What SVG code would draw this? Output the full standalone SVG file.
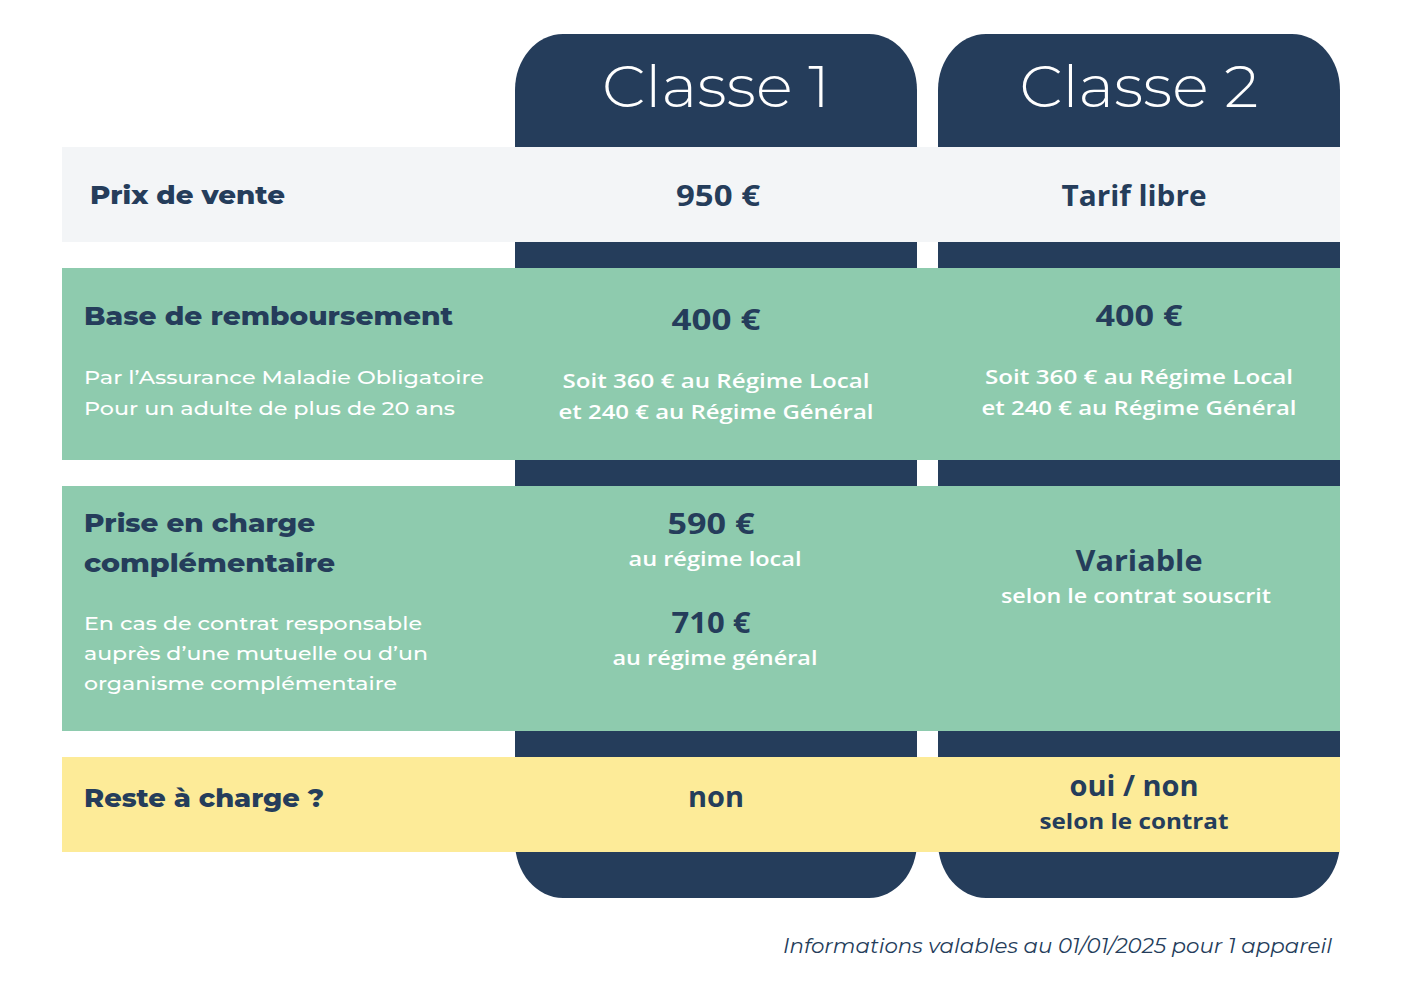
<svg xmlns="http://www.w3.org/2000/svg" width="1407" height="1000" viewBox="0 0 1407 1000">
<style>
.dark{fill:#253d5b}
.lbl{font-family:Montserrat,"Noto Sans","Open Sans",sans-serif;font-weight:800;font-size:26px;fill:#253d5b}
.sub{font-family:Montserrat,"Noto Sans","Open Sans",sans-serif;font-weight:500;font-size:19px;fill:#ffffff}
.val{font-family:"Open Sans","Noto Sans",sans-serif;font-weight:700;font-size:28px;fill:#253d5b;text-anchor:middle}
.vsub{font-family:"Open Sans","Noto Sans",sans-serif;font-weight:600;font-size:20px;fill:#ffffff;text-anchor:middle}
.head{font-family:Montserrat,"Open Sans","Noto Sans",sans-serif;font-weight:300;font-size:58px;fill:#ffffff;text-anchor:middle}
</style>
<rect width="1407" height="1000" fill="#ffffff"/>
<g id="col1"><rect class="dark" x="515" y="34" width="402" height="864" rx="48" ry="56"/><text class="head" x="716" y="107" textLength="228" lengthAdjust="spacingAndGlyphs">Classe 1</text></g>
<g id="col2"><rect class="dark" x="938" y="34" width="402" height="864" rx="48" ry="56"/><text class="head" x="1139" y="107" textLength="239" lengthAdjust="spacingAndGlyphs">Classe 2</text></g>
<g id="row-prix">
<rect x="62" y="147" width="1278" height="95" fill="#f3f5f7"/>
<text class="lbl" x="90" y="204" textLength="195" lengthAdjust="spacingAndGlyphs">Prix de vente</text>
<text class="val" x="718" y="206" textLength="84" lengthAdjust="spacingAndGlyphs">950 €</text>
<text class="val" x="1134" y="206" textLength="145" lengthAdjust="spacingAndGlyphs">Tarif libre</text>
</g>
<g id="row-base">
<rect x="62" y="268" width="1278" height="192" fill="#8ecbae"/>
<text class="lbl" x="84" y="325" textLength="369" lengthAdjust="spacingAndGlyphs">Base de remboursement</text>
<text class="sub" x="84" y="384" textLength="400" lengthAdjust="spacingAndGlyphs">Par l’Assurance Maladie Obligatoire</text>
<text class="sub" x="84" y="415" textLength="371" lengthAdjust="spacingAndGlyphs">Pour un adulte de plus de 20 ans</text>
<text class="val" x="716" y="330" textLength="89" lengthAdjust="spacingAndGlyphs">400 €</text>
<text class="vsub" x="716" y="388" textLength="307" lengthAdjust="spacingAndGlyphs">Soit 360 € au Régime Local</text>
<text class="vsub" x="716" y="419" textLength="315" lengthAdjust="spacingAndGlyphs">et 240 € au Régime Général</text>
<text class="val" x="1139" y="326" textLength="87" lengthAdjust="spacingAndGlyphs">400 €</text>
<text class="vsub" x="1139" y="384" textLength="308" lengthAdjust="spacingAndGlyphs">Soit 360 € au Régime Local</text>
<text class="vsub" x="1139" y="415" textLength="315" lengthAdjust="spacingAndGlyphs">et 240 € au Régime Général</text>
</g>
<g id="row-prise">
<rect x="62" y="486" width="1278" height="245" fill="#8ecbae"/>
<text class="lbl" x="84" y="532" textLength="231" lengthAdjust="spacingAndGlyphs">Prise en charge</text>
<text class="lbl" x="84" y="572" textLength="251" lengthAdjust="spacingAndGlyphs">complémentaire</text>
<text class="sub" x="84" y="630" textLength="338" lengthAdjust="spacingAndGlyphs">En cas de contrat responsable</text>
<text class="sub" x="84" y="660" textLength="344" lengthAdjust="spacingAndGlyphs">auprès d’une mutuelle ou d’un</text>
<text class="sub" x="84" y="690" textLength="313" lengthAdjust="spacingAndGlyphs">organisme complémentaire</text>
<text class="val" x="711" y="534" textLength="87" lengthAdjust="spacingAndGlyphs">590 €</text>
<text class="vsub" x="715" y="566" textLength="173" lengthAdjust="spacingAndGlyphs">au régime local</text>
<text class="val" x="711" y="633" textLength="79" lengthAdjust="spacingAndGlyphs">710 €</text>
<text class="vsub" x="715" y="665" textLength="205" lengthAdjust="spacingAndGlyphs">au régime général</text>
<text class="val" x="1139" y="571" textLength="127" lengthAdjust="spacingAndGlyphs">Variable</text>
<text class="vsub" x="1136" y="603" textLength="270" lengthAdjust="spacingAndGlyphs">selon le contrat souscrit</text>
</g>
<g id="row-reste">
<rect x="62" y="757" width="1278" height="95" fill="#fdeb98"/>
<text class="lbl" x="84" y="807" textLength="240" lengthAdjust="spacingAndGlyphs">Reste à charge ?</text>
<text class="val" x="716" y="807" textLength="56" lengthAdjust="spacingAndGlyphs">non</text>
<text class="val" x="1134" y="796" textLength="129" lengthAdjust="spacingAndGlyphs">oui / non</text>
<text class="val" x="1134" y="829" style="font-size:22px" textLength="189" lengthAdjust="spacingAndGlyphs">selon le contrat</text>
</g>
<g id="connectors"></g>
<text x="1332" y="953" text-anchor="end" font-family="Montserrat,'Noto Sans','Open Sans',sans-serif" font-style="italic" font-weight="400" font-size="20" fill="#253d5b" textLength="549" lengthAdjust="spacingAndGlyphs">Informations valables au 01/01/2025 pour 1 appareil</text>
</svg>
